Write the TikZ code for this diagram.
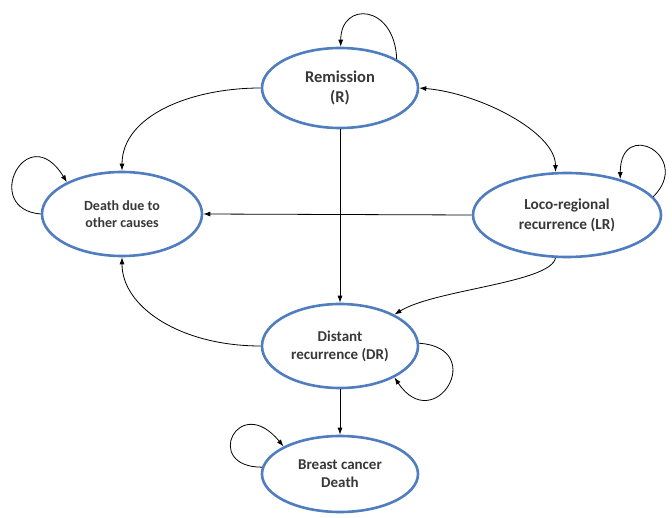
\documentclass[tikz,border=0pt]{standalone}
\usepackage{fontspec}
\setmainfont{Carlito}
\usetikzlibrary{shapes.geometric,arrows.meta}
\definecolor{ellblue}{HTML}{4F7DBF}
\definecolor{txtgray}{HTML}{383838}
\begin{document}
\begin{tikzpicture}[x=1pt,y=-1pt,
  state/.style={ellipse, draw=ellblue, line width=2.6pt, fill=white, inner sep=0pt,
    align=center, text=txtgray, font=\bfseries\fontsize{15}{18}\selectfont},
  arr/.style={-{Latex[length=7pt,width=5pt]}, line width=0.8pt, black},
  darr/.style={{Latex[length=7pt,width=5pt]}-{Latex[length=7pt,width=5pt]}, line width=0.8pt, black}]
\useasboundingbox (0,0) rectangle (672,518);
\node[state, minimum width=156pt, minimum height=80pt, font=\bfseries\fontsize{16.5}{20}\selectfont] (R) at (340,88) {Remission\\(R)};
\node[state, minimum width=160pt, minimum height=84pt, font=\bfseries\fontsize{14}{16.5}\selectfont] (D) at (122,214) {Death due to\\other causes};
\node[state, minimum width=188pt, minimum height=84pt, font=\bfseries\fontsize{15.3}{20}\selectfont] (LR) at (567,215) {Loco-regional\\recurrence (LR)};
\node[state, minimum width=156pt, minimum height=84pt] (DR) at (340,346) {Distant\\recurrence (DR)};
\node[state, minimum width=156pt, minimum height=76pt] (B) at (340,474) {Breast cancer\\Death};
% self loops
\draw[arr] (R.27) .. controls +(-2,-55) and +(0,-46) .. (R.89);
\draw[arr] (D.180) .. controls +(-60,-5) and +(-40,-65) .. (D.150);
\draw[arr] (LR.12) .. controls +(40,-40) and +(0,-62) .. (LR.34);
\draw[arr] (DR.2) .. controls +(70,5) and +(40,60) .. (DR.330);
\draw[arr] (B.175) .. controls +(-60,0) and +(-45,-55) .. (B.154);
% transitions
\draw[arr] (R.180) .. controls +(-70,0) and +(0,-55) .. (D.90);
\draw[darr] (R.0) .. controls +(60,5) and +(0,-40) .. (LR.105);
\draw[arr] (LR.180) -- (D.0);
\draw[arr] (R.270) -- (DR.90);
\draw[arr] (LR.255) .. controls +(-5,25) and +(40,-25) .. (DR.30);
\draw[arr] (DR.180) .. controls +(-80,0) and +(0,50) .. (D.270);
\draw[arr] (DR.270) -- (B.90);
\end{tikzpicture}
\end{document}
